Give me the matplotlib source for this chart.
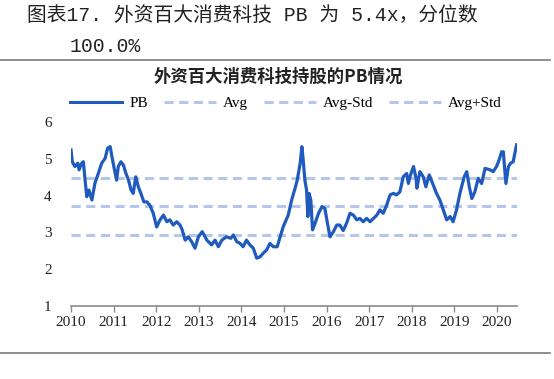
import matplotlib
matplotlib.use("Agg")
import matplotlib.pyplot as plt
from matplotlib.lines import Line2D

plt.rcParams['font.family'] = ['Liberation Serif', 'DejaVu Serif']

# PB of the top-100 foreign-held consumer & tech stocks
years = [
    2010.00, 2010.03, 2010.09, 2010.16, 2010.19, 2010.25, 2010.29, 2010.33, 2010.37, 2010.42,
    2010.49, 2010.56, 2010.64, 2010.72, 2010.80, 2010.86, 2010.92, 2010.96, 2011.02, 2011.07,
    2011.11, 2011.17, 2011.23, 2011.29, 2011.35, 2011.41, 2011.46, 2011.52, 2011.58, 2011.64,
    2011.71, 2011.78, 2011.85, 2011.93, 2012.01, 2012.09, 2012.17, 2012.25, 2012.32, 2012.40,
    2012.48, 2012.56, 2012.61, 2012.68, 2012.75, 2012.83, 2012.91, 2012.99, 2013.08, 2013.19,
    2013.30, 2013.38, 2013.46, 2013.54, 2013.65, 2013.75, 2013.81, 2013.89, 2013.97, 2014.04,
    2014.12, 2014.20, 2014.28, 2014.36, 2014.44, 2014.51, 2014.59, 2014.67, 2014.75, 2014.84,
    2014.91, 2014.98, 2015.05, 2015.10, 2015.18, 2015.26, 2015.31, 2015.38, 2015.42, 2015.45,
    2015.49, 2015.53, 2015.56, 2015.59, 2015.63, 2015.67, 2015.73, 2015.81, 2015.89, 2015.96,
    2016.02, 2016.08, 2016.16, 2016.24, 2016.31, 2016.39, 2016.47, 2016.55, 2016.63, 2016.71,
    2016.78, 2016.86, 2016.94, 2017.02, 2017.10, 2017.18, 2017.25, 2017.33, 2017.41, 2017.49,
    2017.57, 2017.64, 2017.72, 2017.80, 2017.88, 2017.92, 2017.97, 2018.04, 2018.10, 2018.12,
    2018.19, 2018.27, 2018.33, 2018.41, 2018.49, 2018.58, 2018.66, 2018.74, 2018.82, 2018.90,
    2018.97, 2019.05, 2019.13, 2019.23, 2019.29, 2019.35, 2019.41, 2019.48, 2019.56, 2019.64,
    2019.72, 2019.84, 2019.91, 2019.99, 2020.05, 2020.11, 2020.15, 2020.17, 2020.21, 2020.27,
    2020.32, 2020.38, 2020.46,
]
pb = [
    5.24, 4.92, 4.79, 4.88, 4.70, 4.88, 4.92, 4.42, 3.97, 4.15,
    3.88, 4.33, 4.60, 4.88, 5.01, 5.29, 5.33, 5.06, 4.70, 4.42,
    4.79, 4.92, 4.83, 4.60, 4.42, 4.15, 4.06, 4.51, 4.24, 4.06,
    3.83, 3.83, 3.74, 3.52, 3.15, 3.34, 3.47, 3.29, 3.34, 3.20,
    3.29, 3.20, 3.07, 2.79, 2.88, 2.75, 2.57, 2.88, 3.02, 2.79,
    2.66, 2.79, 2.61, 2.79, 2.88, 2.84, 2.93, 2.75, 2.70, 2.61,
    2.79, 2.66, 2.57, 2.30, 2.34, 2.43, 2.52, 2.70, 2.61, 2.61,
    2.88, 3.15, 3.34, 3.47, 3.88, 4.20, 4.42, 4.88, 5.33, 4.97,
    4.42, 4.15, 3.43, 4.06, 3.88, 3.07, 3.25, 3.52, 3.70, 3.65,
    3.25, 2.88, 3.02, 3.20, 3.20, 3.05, 3.25, 3.52, 3.47, 3.34,
    3.38, 3.29, 3.38, 3.29, 3.38, 3.47, 3.61, 3.52, 3.74, 4.02,
    4.06, 4.02, 4.10, 4.51, 4.60, 4.33, 4.56, 4.79, 4.47, 4.20,
    4.65, 4.51, 4.24, 4.56, 4.33, 4.06, 3.88, 3.61, 3.34, 3.43,
    3.29, 3.61, 4.06, 4.51, 4.65, 4.24, 3.92, 4.10, 4.47, 4.33,
    4.74, 4.70, 4.65, 4.79, 4.97, 5.19, 5.19, 4.88, 4.33, 4.79,
    4.88, 4.92, 5.38,
]
avg = 3.72
avg_minus_std = 2.94
avg_plus_std = 4.49
year_ticks = list(range(2010, 2021))
y_ticks = [1, 2, 3, 4, 5, 6]

line_blue = '#1f5bbd'
band_blue = '#b4c6ea'
band_style = (0, (3, 1.8))

fig = plt.figure(figsize=(5.54, 3.79), dpi=100)
ax = fig.add_axes([0.1282, 0.1926, 0.8050, 0.4855])

ax.axhline(avg, color=band_blue, lw=2.2, ls=band_style)
ax.axhline(avg_minus_std, color=band_blue, lw=2.2, ls=band_style)
ax.axhline(avg_plus_std, color=band_blue, lw=2.2, ls=band_style)
ax.plot(years, pb, color=line_blue, lw=2.3)

ax.set_xlim(2010, 2020.47)
ax.set_ylim(1, 6)
ax.set_xticks(year_ticks)
ax.set_xticklabels([str(y) for y in year_ticks])
ax.set_yticks(y_ticks)

for side in ['left', 'top', 'right']:
    ax.spines[side].set_visible(False)
ax.spines['bottom'].set_color('#8a8a8a')
ax.spines['bottom'].set_linewidth(1.2)
ax.tick_params(axis='x', length=4, width=1.0, color='#8a8a8a', labelsize=11,
               labelcolor='#222222', pad=3)
ax.tick_params(axis='y', length=0, labelsize=11, labelcolor='#222222', pad=14)

# legend
handles = [
    Line2D([], [], color=line_blue, lw=2.2),
    Line2D([], [], color=band_blue, lw=2.2, ls=band_style),
    Line2D([], [], color=band_blue, lw=2.2, ls=band_style),
    Line2D([], [], color=band_blue, lw=2.2, ls=band_style),
]
fig.legend(handles, ['PB', 'Avg', 'Avg-Std', 'Avg+Std'], loc='center',
           bbox_to_anchor=(0.516, 0.728), ncol=4, frameon=False, fontsize=11,
           handlelength=3.4, handletextpad=0.45, columnspacing=1.05)

# page title: monospace for latin, CJK font for the rest
title_font = ['Liberation Mono', 'Noto Sans CJK SC']
fig.text(27 / 554, 1 - 15 / 379, '图表17. 外资百大消费科技 PB 为 5.4x，分位数',
         family=title_font, fontsize=14.2, color='#222222', va='center', ha='left')
fig.text(70 / 554, 1 - 47 / 379, '100.0%', family=title_font, fontsize=14.2,
         color='#222222', va='center', ha='left')
fig.text(278 / 554, 1 - 77 / 379, '外资百大消费科技持股的PB情况',
         family=['Noto Sans CJK SC', 'DejaVu Sans'],
         fontsize=12.5, fontweight='bold', color='#222222', va='center', ha='center')

# horizontal rules above and below the chart
fig.add_artist(Line2D([0.0, 0.993], [1 - 59.5 / 379] * 2, color='#7a7a7a', lw=1.2))
fig.add_artist(Line2D([0.0, 0.993], [1 - 352.7 / 379] * 2, color='#7a7a7a', lw=1.2))

fig.savefig('out.png', dpi=100)
